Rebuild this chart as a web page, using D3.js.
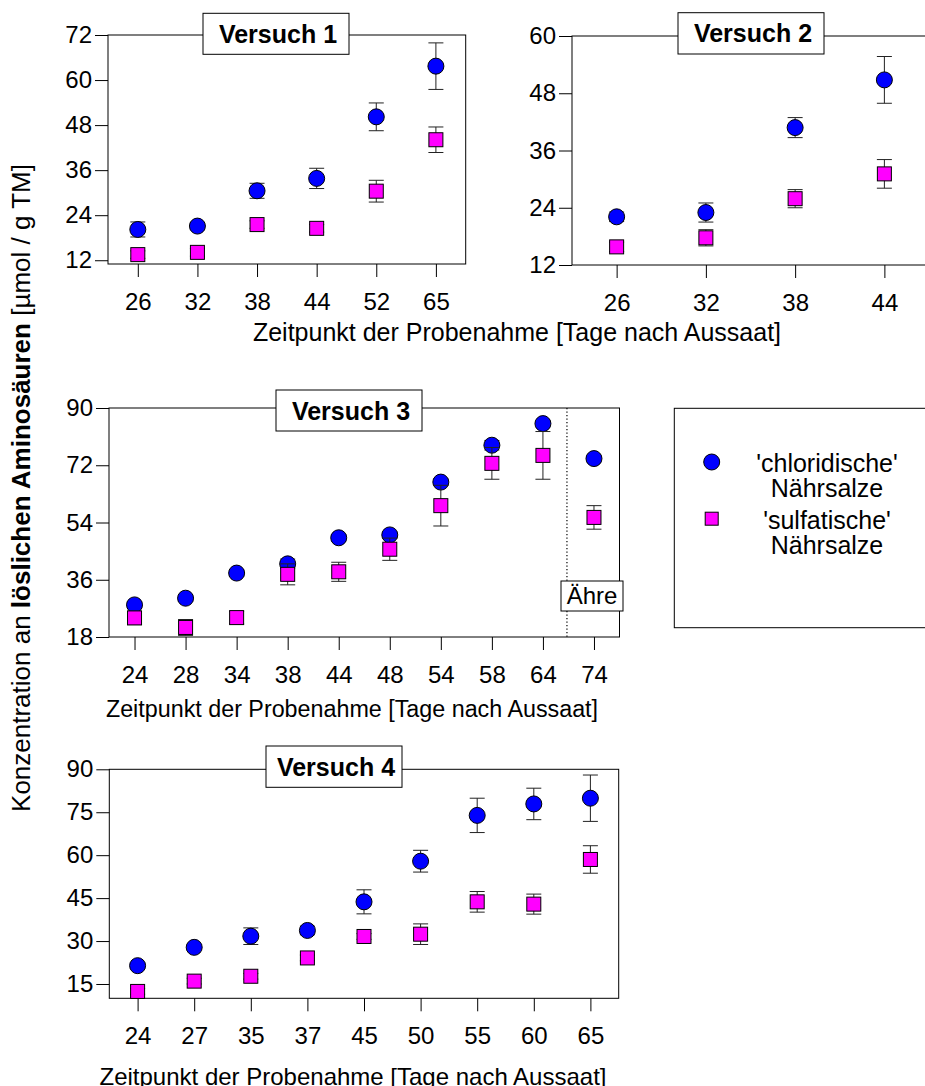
<!DOCTYPE html>
<html>
<head>
<meta charset="utf-8">
<script src="https://cdn.jsdelivr.net/npm/d3@7"></script>
<style>
  html, body { margin: 0; padding: 0; background: #fff; }
  svg { display: block; font-family: "Liberation Sans", Arial, sans-serif; }
</style>
</head>
<body>
<svg id="chart" width="925" height="1086"></svg>
<script>
// Soluble amino acids, four trials: 'chloridische' vs 'sulfatische' nutrient salts

// Versuch 1
const v1Days = ["26", "32", "38", "44", "52", "65"];
const v1Chlorid = [20.2, 21.1, 30.5, 33.8, 50.2, 63.7];
const v1ChloridErr = [2.0, 1.0, 2.0, 2.7, 3.7, 6.2];
const v1Sulfat = [13.5, 14.1, 21.5, 20.5, 30.4, 44.1];
const v1SulfatErr = [1.0, 1.0, 1.0, 1.0, 2.9, 3.4];
const v1Ticks = [12, 24, 36, 48, 60, 72];

// Versuch 2
const v2Days = ["26", "32", "38", "44"];
const v2Chlorid = [22.1, 23.0, 40.8, 50.8];
const v2ChloridErr = [1.0, 2.0, 2.1, 4.9];
const v2Sulfat = [15.8, 17.7, 25.9, 31.1];
const v2SulfatErr = [1.0, 1.7, 1.9, 3.0];
const v2Ticks = [12, 24, 36, 48, 60];

// Versuch 3
const v3Days = ["24", "28", "34", "38", "44", "48", "54", "58", "64", "74"];
const v3Chlorid = [28.1, 30.2, 38.1, 41.0, 49.2, 50.1, 66.7, 78.3, 85.1, 74.1];
const v3ChloridErr = [1.0, 1.0, 1.0, 1.5, 1.0, 1.0, 1.0, 1.5, 1.0, 1.0];
const v3Sulfat = [24.0, 21.0, 24.1, 37.7, 38.5, 45.6, 59.3, 72.6, 75.1, 55.6];
const v3SulfatErr = [2.1, 2.5, 2.0, 3.3, 3.0, 3.5, 6.4, 5.0, 7.5, 3.7];
const v3Ticks = [18, 36, 54, 72, 90];

// Versuch 4
const v4Days = ["24", "27", "35", "37", "45", "50", "55", "60", "65"];
const v4Chlorid = [21.4, 27.8, 31.7, 33.7, 43.7, 57.9, 73.9, 77.9, 79.9];
const v4ChloridErr = [1.0, 1.0, 2.9, 1.5, 4.2, 3.8, 6.0, 5.5, 8.1];
const v4Sulfat = [12.4, 16.0, 17.7, 24.1, 31.6, 32.4, 43.7, 42.9, 58.5];
const v4SulfatErr = [1.0, 1.0, 1.0, 1.0, 1.0, 3.6, 3.6, 3.5, 4.8];
const v4Ticks = [15, 30, 45, 60, 75, 90];

const seriesNames = ["'chloridische'\nNährsalze", "'sulfatische'\nNährsalze"];
const xTitle = "Zeitpunkt der Probenahme [Tage nach Aussaat]";

// ---- layout / style ----
const COL_CIRCLE = "#0000ff";
const COL_SQUARE = "#ff00ff";
const TICK_FONT = 24;

const panels = [
  { title: "Versuch 1", days: v1Days, a: v1Chlorid, aErr: v1ChloridErr, b: v1Sulfat, bErr: v1SulfatErr,
    ticks: v1Ticks, yDom: [11, 72], box: [108, 465.7, 35, 264], tbox: [203, 13.3, 146, 41] },
  { title: "Versuch 2", days: v2Days, a: v2Chlorid, aErr: v2ChloridErr, b: v2Sulfat, bErr: v2SulfatErr,
    ticks: v2Ticks, yDom: [12, 60], box: [572, 929, 36, 265], tbox: [678, 12.7, 146, 41.3] },
  { title: "Versuch 3", days: v3Days, a: v3Chlorid, aErr: v3ChloridErr, b: v3Sulfat, bErr: v3SulfatErr,
    ticks: v3Ticks, yDom: [18, 90], box: [109, 619.5, 408, 637], tbox: [276, 390, 146, 41], spike: true },
  { title: "Versuch 4", days: v4Days, a: v4Chlorid, aErr: v4ChloridErr, b: v4Sulfat, bErr: v4SulfatErr,
    ticks: v4Ticks, yDom: [10, 90], box: [109.3, 618.7, 769.3, 998.3], tbox: [266, 746, 136, 41.3] }
];

const xTitles = [
  { x: 517, y: 341, size: 25 },
  { x: 352, y: 717, size: 23.3 },
  { x: 353, y: 1085, size: 24 }
];

const svg = d3.select("#chart");

function drawPanel(p) {
  const [l, r, t, b] = p.box;
  const g = svg.append("g");
  const x = d3.scalePoint().domain(p.days).range([l, r]).padding(0.5);
  const y = d3.scaleLinear().domain(p.yDom).range([b, t]);

  // frame
  g.append("rect").attr("x", l).attr("y", t).attr("width", r - l).attr("height", b - t)
    .attr("fill", "none").attr("stroke", "#000").attr("stroke-width", 1);

  // axes
  const ya = g.append("g").attr("transform", `translate(${l},0)`)
    .call(d3.axisLeft(y).tickValues(p.ticks).tickSize(13).tickPadding(3).tickFormat(d3.format("d")));
  const xa = g.append("g").attr("transform", `translate(0,${b})`)
    .call(d3.axisBottom(x).tickSize(13).tickPadding(16));
  [ya, xa].forEach(a => {
    a.select(".domain").remove();
    a.selectAll("line").attr("stroke", "#000").attr("stroke-width", 1);
    a.selectAll("text").attr("font-size", TICK_FONT).attr("fill", "#000")
      .attr("font-family", "Liberation Sans, Arial, sans-serif");
  });

  // dotted separator before the ear sample
  if (p.spike) {
    const last = p.days[p.days.length - 1], prev = p.days[p.days.length - 2];
    const xs = (x(last) + x(prev)) / 2 - 1.5;
    g.append("line").attr("x1", xs).attr("x2", xs).attr("y1", t).attr("y2", b)
      .attr("stroke", "#000").attr("stroke-width", 1.2).attr("stroke-dasharray", "1.3,2.2");
    g.append("rect").attr("x", 561).attr("y", 581).attr("width", 62).attr("height", 30)
      .attr("fill", "#fff").attr("stroke", "#000").attr("stroke-width", 1);
    g.append("text").attr("x", 592).attr("y", 604).attr("text-anchor", "middle")
      .attr("font-size", 24).text("Ähre");
  }

  const cap = 7.5;
  function errBars(vals, errs) {
    const eg = g.append("g").attr("stroke", "#222").attr("stroke-width", 1).attr("fill", "none");
    p.days.forEach((d, i) => {
      const cx = x(d), y1 = y(vals[i] - errs[i]), y2 = y(vals[i] + errs[i]);
      eg.append("line").attr("x1", cx).attr("x2", cx).attr("y1", y1).attr("y2", y2);
      eg.append("line").attr("x1", cx - cap).attr("x2", cx + cap).attr("y1", y1).attr("y2", y1);
      eg.append("line").attr("x1", cx - cap).attr("x2", cx + cap).attr("y1", y2).attr("y2", y2);
    });
  }

  errBars(p.a, p.aErr);
  g.append("g").selectAll("circle").data(p.days).join("circle")
    .attr("cx", d => x(d)).attr("cy", (d, i) => y(p.a[i])).attr("r", 8)
    .attr("fill", COL_CIRCLE).attr("stroke", "#000").attr("stroke-width", 1);

  errBars(p.b, p.bErr);
  const s = 14;
  g.append("g").selectAll("rect").data(p.days).join("rect")
    .attr("x", d => x(d) - s / 2).attr("y", (d, i) => y(p.b[i]) - s / 2)
    .attr("width", s).attr("height", s)
    .attr("fill", COL_SQUARE).attr("stroke", "#000").attr("stroke-width", 1);

  // title box
  const [bx, by, bw, bh] = p.tbox;
  g.append("rect").attr("x", bx).attr("y", by).attr("width", bw).attr("height", bh)
    .attr("fill", "#fff").attr("stroke", "#000").attr("stroke-width", 1);
  g.append("text").attr("x", bx + bw / 2 + 2).attr("y", by + bh / 2 + 9)
    .attr("text-anchor", "middle").attr("font-size", 25).attr("font-weight", "bold")
    .text(p.title);
}

panels.forEach(drawPanel);

xTitles.forEach(tt => {
  svg.append("text").attr("x", tt.x).attr("y", tt.y).attr("text-anchor", "middle")
    .attr("font-size", tt.size).text(xTitle);
});

// y-axis title with bold middle part
const yt = svg.append("text")
  .attr("transform", "translate(30,488) rotate(-90)")
  .attr("text-anchor", "middle").attr("font-size", 26);
yt.append("tspan").text("Konzentration an ");
yt.append("tspan").attr("font-weight", "bold").text("löslichen Aminosäuren");
yt.append("tspan").text(" [µmol / g TM]");

// legend
const lg = svg.append("g");
lg.append("rect").attr("x", 674.3).attr("y", 408.3).attr("width", 260).attr("height", 219.4)
  .attr("fill", "#fff").attr("stroke", "#000").attr("stroke-width", 1);
lg.append("circle").attr("cx", 711.7).attr("cy", 462).attr("r", 8)
  .attr("fill", COL_CIRCLE).attr("stroke", "#000").attr("stroke-width", 1);
lg.append("rect").attr("x", 711.7 - 6.5).attr("y", 518.7 - 6.5).attr("width", 13).attr("height", 13)
  .attr("fill", COL_SQUARE).attr("stroke", "#000").attr("stroke-width", 1);
seriesNames.forEach((name, k) => {
  name.split("\n").forEach((line, j) => {
    lg.append("text").attr("x", 827).attr("y", 472 + k * 56.5 + j * 25)
      .attr("text-anchor", "middle").attr("font-size", 25).text(line);
  });
});
</script>
</body>
</html>
